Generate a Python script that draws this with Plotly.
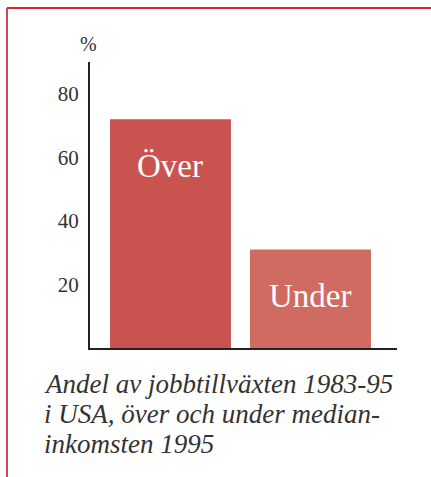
import plotly.graph_objects as go

# ---- data ----
categories = ["Över", "Under"]
values = [72, 31]
tick_values = [20, 40, 60, 80]
tick_labels = ["20", "40", "60", "80"]
bar_colors = ["#c9544f", "#cf6b60"]
caption_lines = ["Andel av jobbtillväxten 1983-95",
                 "i USA, över och under median-",
                 "inkomsten 1995"]
unit_label = "%"

# ---- layout geometry (pixels) ----
WIDTH, HEIGHT = 431, 477
L, R, T, B = 90, 397, 62, 348
PW, PH = R - L, B - T


def px(x):
    return (x - L) / PW


def py(y):
    return (B - y) / PH


SERIF = "Liberation Serif, Times New Roman, serif"

fig = go.Figure()
fig.add_trace(go.Bar(
    x=categories,
    y=values,
    marker=dict(color=bar_colors, line=dict(width=0)),
    width=0.864,
    hoverinfo="skip",
))

for cat, val in zip(categories, values):
    fig.add_annotation(
        x=cat, y=val, xref="x", yref="y",
        text=cat, showarrow=False,
        yanchor="middle", xanchor="center",
        yshift=-47,
        font=dict(family=SERIF, size=33, color="white"),
    )

# unit label
fig.add_annotation(
    x=px(88), y=py(44), xref="paper", yref="paper",
    text=unit_label, showarrow=False,
    xanchor="center", yanchor="middle",
    font=dict(family=SERIF, size=20, color="#333333"),
)

# caption, one annotation per line
for i, line in enumerate(caption_lines):
    fig.add_annotation(
        x=px(42), y=py(384 + 30 * i), xref="paper", yref="paper",
        text=line, showarrow=False, align="left",
        xanchor="left", yanchor="middle",
        font=dict(family=SERIF, size=27, color="#333333", style="italic"),
    )

# red frame lines (top and left)
fig.add_shape(type="line", xref="paper", yref="paper",
              x0=px(7), x1=px(432), y0=py(8), y1=py(8),
              line=dict(color="#d9262f", width=2))
fig.add_shape(type="line", xref="paper", yref="paper",
              x0=px(7), x1=px(7), y0=py(8), y1=py(478),
              line=dict(color="#c9485b", width=2))

fig.update_layout(
    width=WIDTH, height=HEIGHT,
    margin=dict(l=L, r=WIDTH - R, t=T, b=HEIGHT - B, pad=0),
    paper_bgcolor="white", plot_bgcolor="white",
    showlegend=False,
    xaxis=dict(
        range=[-0.575, 1.618],
        showticklabels=False, ticks="",
        showgrid=False, zeroline=False,
        showline=True, linecolor="#222222", linewidth=2,
    ),
    yaxis=dict(
        range=[0, 90],
        tickvals=tick_values, ticktext=tick_labels,
        ticks="", ticklabelstandoff=5,
        tickfont=dict(family=SERIF, size=21, color="#333333"),
        showgrid=False, zeroline=False,
        showline=True, linecolor="#222222", linewidth=2,
    ),
)

fig.write_html("out.html", config={"displayModeBar": False},
               post_script="document.body.style.margin='0';")
